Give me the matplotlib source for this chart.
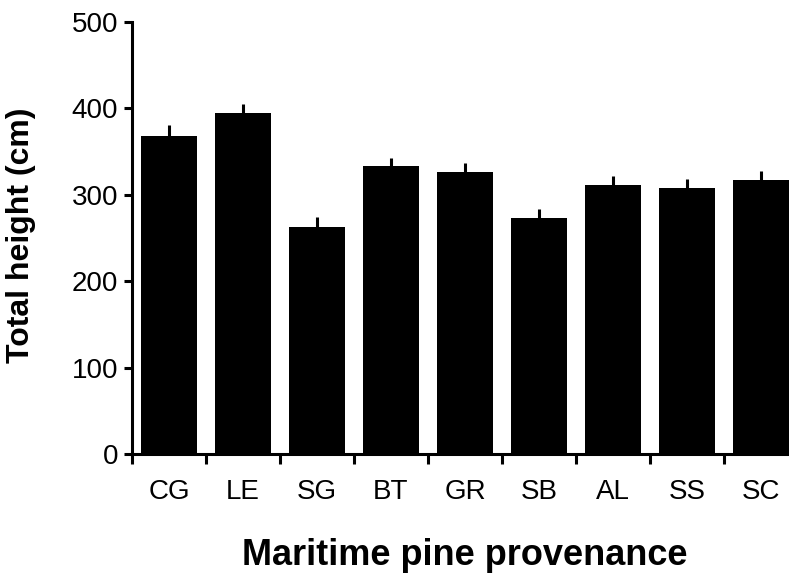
import matplotlib.pyplot as plt
import numpy as np

plt.rcParams['font.family'] = ['Liberation Sans', 'DejaVu Sans']

provenances = ['CG', 'LE', 'SG', 'BT', 'GR', 'SB', 'AL', 'SS', 'SC']
heights = [368, 395, 263, 333, 326, 273, 311, 308, 317]
errors = [13, 10, 11, 10, 11, 11, 11, 10, 10]

fig = plt.figure(figsize=(7.89, 5.78), dpi=100)
ax = fig.add_axes([0.1673, 0.2145, 0.844, 0.7475])

x = np.arange(len(provenances))
ax.bar(x, heights, width=0.76, color='black')
ax.errorbar(x, heights, yerr=[np.zeros(len(errors)), errors], fmt='none',
            ecolor='black', elinewidth=2.2, capsize=0)

ax.set_xlim(-0.5, len(provenances) - 0.5)
ax.set_ylim(0, 500)
ax.set_yticks([0, 100, 200, 300, 400, 500])
ax.set_xticks(np.arange(-0.5, len(provenances) - 0.5, 1.0))
ax.set_xticklabels([])
ax.set_xticks(x, minor=True)
ax.set_xticklabels(provenances, minor=True)

for side in ['top', 'right']:
    ax.spines[side].set_visible(False)
for side in ['left', 'bottom']:
    ax.spines[side].set_linewidth(2.2)

ax.tick_params(axis='y', which='major', direction='out', length=6, width=2.2,
               labelsize=20, pad=4)
ax.tick_params(axis='x', which='major', direction='out', length=7, width=2.2)
ax.tick_params(axis='x', which='minor', length=0, labelsize=20, pad=18)

ax.set_xlabel('Maritime pine provenance', fontsize=26, fontweight='bold', labelpad=24)
fig.text(0.027, 0.593, 'Total height (cm)', rotation=90, fontsize=23,
         fontweight='bold', ha='center', va='center')

fig.savefig('out.png', dpi=100)
